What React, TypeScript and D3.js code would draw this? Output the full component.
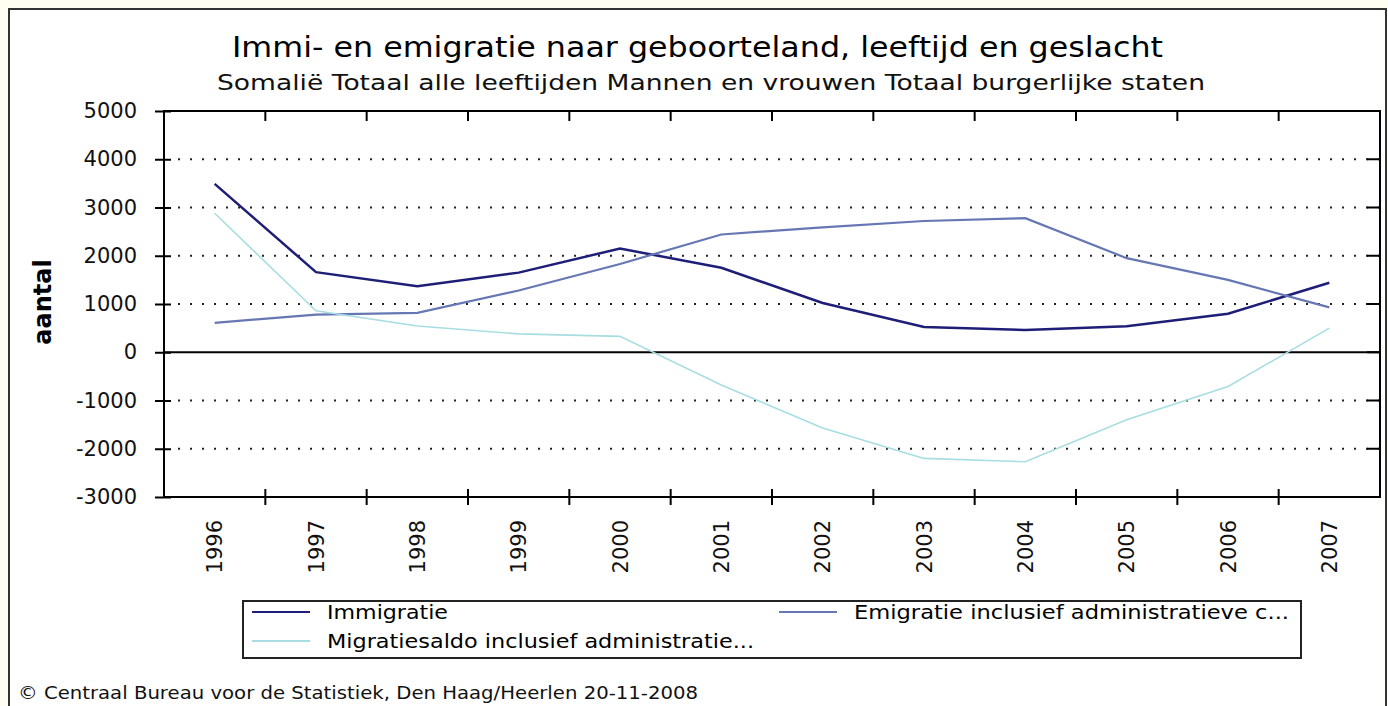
import { useEffect, useRef } from "react";
import * as d3 from "d3";

const width = 1388;
const height = 706;
const plot = { left: 164, right: 1380, top: 111, bottom: 497 };

const years = ["1996", "1997", "1998", "1999", "2000", "2001", "2002", "2003", "2004", "2005", "2006", "2007"];
const immigratie = [3490, 1660, 1370, 1650, 2150, 1750, 1020, 525, 460, 540, 800, 1440];
const emigratie = [610, 780, 815, 1280, 1830, 2440, 2590, 2720, 2780, 1950, 1500, 930];
const saldo = [2880, 860, 545, 380, 330, -680, -1570, -2200, -2270, -1400, -710, 500];
const yTicks = [5000, 4000, 3000, 2000, 1000, 0, -1000, -2000, -3000];
const gridTicks = [4000, 3000, 2000, 1000, -1000, -2000];
const seriesNames = ["Immigratie", "Emigratie inclusief administratieve c...", "Migratiesaldo inclusief administratie..."];

const series = [
  { name: seriesNames[0], values: immigratie, color: "#1e1e78", w: 2.5 },
  { name: seriesNames[1], values: emigratie, color: "#6677b4", w: 2.2 },
  { name: seriesNames[2], values: saldo, color: "#a8dde2", w: 1.6 },
];

const font = "'DejaVu Sans', Verdana, sans-serif";

const App = () => {
  const yAxisRef = useRef<SVGGElement | null>(null);

  const x = d3.scaleBand().domain(years).range([plot.left, plot.right]).padding(0);
  const y = d3.scaleLinear().domain([-3000, 5000]).range([plot.bottom, plot.top]);
  const bw = x.bandwidth();

  useEffect(() => {
    if (!yAxisRef.current) return;
    const g = d3.select(yAxisRef.current);
    g.selectAll("*").remove();
    g.attr("transform", `translate(${plot.left},0)`)
      .call(d3.axisLeft(y).tickValues(yTicks).tickSize(9).tickPadding(18).tickFormat(d => String(d)));
    g.select(".domain").remove();
    g.selectAll(".tick line").attr("x1", 7).attr("stroke", "#000").attr("stroke-width", 2);
    g.selectAll(".tick text")
      .attr("font-family", font)
      .attr("font-size", 21)
      .attr("fill", "#111");
  }, []);

  const line = d3.line<number>()
    .x((_, i) => (x(years[i]) as number) + bw / 2)
    .y(d => y(d));

  const bounds = years.map(yr => x(yr) as number).slice(1);

  return (
    <div style={{ position: "absolute", left: 0, top: 0 }}>
      <svg width={width} height={height} viewBox={`0 0 ${width} ${height}`} style={{ display: "block" }}>
        <rect x={0} y={0} width={width} height={height} fill="#fffef0" />
        <rect x={9} y={9} width={1377} height={720} fill="#fff" stroke="#333" strokeWidth={2} />

        <text x={232} y={57} textLength={931} lengthAdjust="spacingAndGlyphs" fontFamily={font} fontSize={28} fill="#000">
          Immi- en emigratie naar geboorteland, leeftijd en geslacht
        </text>
        <text x={217} y={90} textLength={988} lengthAdjust="spacingAndGlyphs" fontFamily={font} fontSize={21} fill="#111">
          Somalië Totaal alle leeftijden Mannen en vrouwen Totaal burgerlijke staten
        </text>

        {/* dotted gridlines */}
        {gridTicks.map(t => (
          <line key={t} x1={plot.left + 14} x2={plot.right} y1={y(t)} y2={y(t)}
            stroke="#222" strokeWidth={2} strokeDasharray="2 10" />
        ))}

        {/* plot frame */}
        <rect x={plot.left} y={plot.top} width={plot.right - plot.left} height={plot.bottom - plot.top}
          fill="none" stroke="#000" strokeWidth={2} />
        <line x1={plot.left} x2={plot.right} y1={y(0)} y2={y(0)} stroke="#000" strokeWidth={2} />

        {/* right-side inner ticks */}
        {yTicks.map(t => (
          <line key={"r" + t} x1={plot.right - 13} x2={plot.right} y1={y(t)} y2={y(t)} stroke="#000" strokeWidth={2} />
        ))}
        {/* top ticks and bottom crossing ticks at category boundaries */}
        {bounds.map(b => (
          <g key={"b" + b}>
            <line x1={b} x2={b} y1={plot.top} y2={plot.top + 10} stroke="#000" strokeWidth={2} />
            <line x1={b} x2={b} y1={plot.bottom - 8} y2={plot.bottom + 8} stroke="#000" strokeWidth={2} />
          </g>
        ))}

        <g ref={yAxisRef} />

        <text transform="translate(43,302) rotate(-90)" textAnchor="middle" dy="0.35em"
          fontFamily={font} fontSize={24} fontWeight="bold" fill="#000">aantal</text>

        {years.map(yr => (
          <text key={yr} transform={`translate(${(x(yr) as number) + bw / 2},520) rotate(-90)`}
            textAnchor="end" dy="0.36em" fontFamily={font} fontSize={21} fill="#111">{yr}</text>
        ))}

        {series.map(s => (
          <path key={s.name} d={line(s.values) ?? ""} fill="none" stroke={s.color} strokeWidth={s.w} />
        ))}

        {/* legend */}
        <rect x={243} y={601} width={1058} height={57} fill="#fff" stroke="#222" strokeWidth={2} />
        {[
          { s: series[0], lx: 252, ty: 612, tl: 121 },
          { s: series[1], lx: 779, ty: 612, tl: 435 },
          { s: series[2], lx: 252, ty: 641, tl: 427 },
        ].map(({ s, lx, ty, tl }) => (
          <g key={"lg" + s.name}>
            <line x1={lx} x2={lx + 58} y1={ty} y2={ty} stroke={s.color} strokeWidth={2} />
            <text x={lx + 75} y={ty} dy="0.35em" textLength={tl} lengthAdjust="spacingAndGlyphs"
              fontFamily={font} fontSize={19} fill="#000">{s.name}</text>
          </g>
        ))}

        <text x={18} y={699} textLength={680} lengthAdjust="spacingAndGlyphs" fontFamily={font} fontSize={18} fill="#111">
          © Centraal Bureau voor de Statistiek, Den Haag/Heerlen 20-11-2008
        </text>
      </svg>
    </div>
  );
};

export default App;
